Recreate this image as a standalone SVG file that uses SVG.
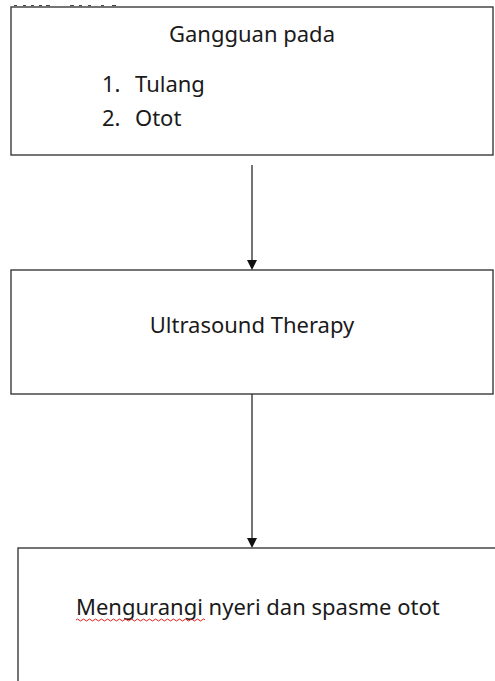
<svg xmlns="http://www.w3.org/2000/svg" width="495" height="681" viewBox="0 0 495 681">
<style>
.box{fill:#fff;stroke:#3a3a3a;stroke-width:1.4}
.t{font-family:"Noto Sans","Open Sans","DejaVu Sans",sans-serif;font-size:22px;fill:#1a1a1a}
.c{text-anchor:middle}
.conn{stroke:#3a3a3a;stroke-width:1.4;fill:none}
</style>
<rect width="495" height="681" fill="#fff"/>
<path d="M14,5.5 H17 M23,5.5 H26 M31,5.5 H34 M39,5.5 H42 M46,5.5 H50 M70,5.5 H74 M79,5.5 H82 M88,5.5 H91 M101,5.5 H104 M112,5.5 H116" stroke="#444" stroke-width="1.2"/>
<g id="node1">
<rect class="box" x="11" y="7" width="482" height="148"/>
<text class="t c" x="252" y="42">Gangguan pada</text>
<text class="t" x="102" y="92">1.</text>
<text class="t" x="135" y="92">Tulang</text>
<text class="t" x="102" y="126">2.</text>
<text class="t" x="135" y="126">Otot</text>
</g>
<g id="node2">
<rect class="box" x="11" y="270" width="482" height="124"/>
<text class="t c" x="252" y="333">Ultrasound Therapy</text>
</g>
<g id="node3">
<rect class="box" x="18" y="548" width="490" height="150"/>
<text class="t" x="76" y="615">Mengurangi nyeri dan spasme otot</text>
<path d="M76,620 q1.5,-2 3,0 t3,0 t3,0 t3,0 t3,0 t3,0 t3,0 t3,0 t3,0 t3,0 t3,0 t3,0 t3,0 t3,0 t3,0 t3,0 t3,0 t3,0 t3,0 t3,0 t3,0 t3,0 t3,0 t3,0 t3,0 t3,0 t3,0 t3,0 t3,0 t3,0 t3,0 t3,0 t3,0 t3,0 t3,0 t3,0 t3,0 t3,0 t3,0 t3,0 t3,0 t3,0 t3,0" stroke="#e02020" stroke-width="1" fill="none"/>
</g>
<g id="connectors">
<line class="conn" x1="252" y1="165" x2="252" y2="261"/>
<path d="M247,260 L257,260 L252,270 Z" fill="#111"/>
<line class="conn" x1="252" y1="394" x2="252" y2="539"/>
<path d="M247,538 L257,538 L252,548 Z" fill="#111"/>
</g>
</svg>
